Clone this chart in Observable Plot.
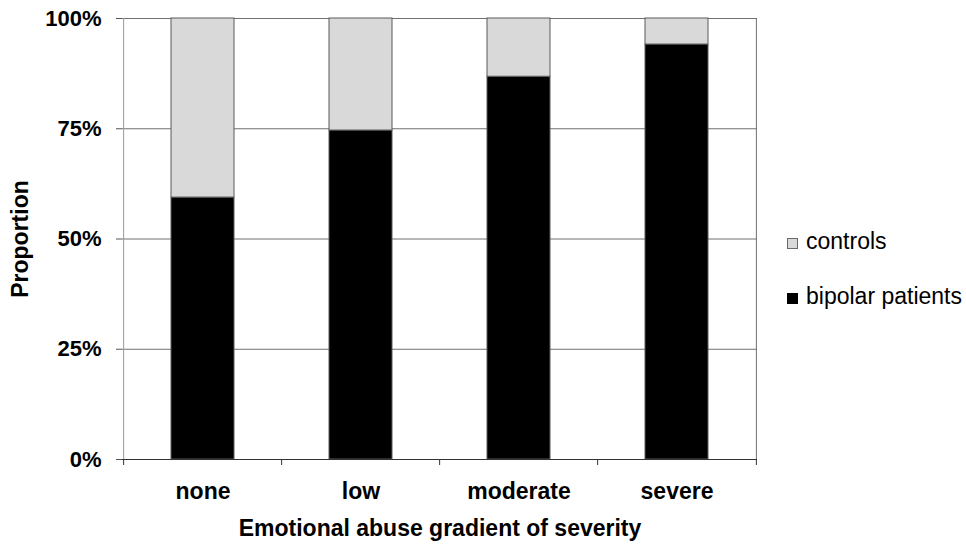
<!DOCTYPE html>
<html>
<head>
<meta charset="utf-8">
<script src="https://cdn.jsdelivr.net/npm/d3@7"></script>
<script src="https://cdn.jsdelivr.net/npm/@observablehq/plot@0.6"></script>
<style>
  body { margin: 0; background: #fff; font-family: "Liberation Sans", Arial, sans-serif; }
  #wrap { position: relative; width: 966px; height: 544px; overflow: hidden; }
  #chart { position: absolute; left: 0; top: 0; }
  .title { position: absolute; font-weight: bold; font-size: 23px; line-height: 23px; white-space: nowrap; color: #000; }
  .lg { position: absolute; font-size: 23px; line-height: 23px; white-space: nowrap; color: #000; }
  .sw { position: absolute; width: 9px; height: 9px; box-sizing: content-box; }
</style>
</head>
<body>
<div id="wrap">
  <div id="chart"></div>
  <div class="title" id="xtitle" style="left:440px; top:517px; transform: translateX(-50%);">Emotional abuse gradient of severity</div>
  <div class="title" id="ytitle" style="left:20px; top:239px; transform: translate(-50%,-50%) rotate(-90deg);">Proportion</div>
  <div id="legend"></div>
</div>
<script>
const categories = ["none", "low", "moderate", "severe"];
const bipolarValues = [59.4, 74.6, 86.8, 94.1];
const controlValues = [40.6, 25.4, 13.2, 5.9];
const groups = ["bipolar patients", "controls"];
const groupColors = ["#000000", "#d9d9d9"];
const yTicks = [0, 25, 50, 75, 100];
const legendOrder = ["controls", "bipolar patients"];

const rows = [];
categories.forEach((c, i) => {
  rows.push({cat: c, group: groups[0], value: bipolarValues[i]});
  rows.push({cat: c, group: groups[1], value: controlValues[i]});
});

const W = 966, H = 544;
const mL = 122, mR = 209, mT = 18, mB = 85;
const step = (W - mL - mR) / categories.length;

const plot = Plot.plot({
  width: W,
  height: H,
  marginLeft: mL,
  marginRight: mR,
  marginTop: mT,
  marginBottom: mB,
  style: {fontFamily: "Liberation Sans, Arial, sans-serif", background: "#fff", color: "#000"},
  x: {domain: categories, paddingInner: 0.6, paddingOuter: 0.3, label: null},
  y: {domain: [0, 100], label: null},
  color: {domain: groups, range: groupColors},
  marks: [
    Plot.ruleY(yTicks.slice(1), {stroke: "#707070", strokeWidth: 1}),
    Plot.ruleX([categories[categories.length - 1]], {dx: step / 2, stroke: "#707070"}),
    Plot.barY(rows, {x: "cat", y: "value", fill: "group", stroke: "#5a5a5a", strokeWidth: 1}),
    Plot.ruleX([categories[0]], {dx: -step / 2, stroke: "#999"}),
    Plot.ruleY([0], {stroke: "#333"}),
    Plot.ruleX(categories, {x: d => d, dx: -step / 2, y1: 0, y2: 0, insetBottom: -6, stroke: "#333"}),
    Plot.ruleX([categories[categories.length - 1]], {x: d => d, dx: step / 2, y1: 0, y2: 0, insetBottom: -6, stroke: "#333"}),
    Plot.axisY({ticks: yTicks, tickFormat: d => d + "%", tickSize: 6, tickPadding: 15, fontSize: 22, fontWeight: "bold", stroke: "#555", label: null}),
    Plot.axisX({tickSize: 0, tickPadding: 23, fontSize: 23, fontWeight: "bold", label: null})
  ]
});
document.getElementById("chart").appendChild(plot);

// legend (HTML), colors from the plot's color scale
const color = plot.scale("color");
const legend = document.getElementById("legend");
const legendTops = {"controls": 238, "bipolar patients": 293};
legendOrder.forEach(g => {
  const sw = document.createElement("div");
  sw.className = "sw";
  const fill = color.range[color.domain.indexOf(g)];
  sw.style.background = fill;
  sw.style.border = "1px solid " + (g === "controls" ? "#6a6a6a" : "#000");
  sw.style.left = "787px";
  sw.style.top = legendTops[g] + "px";
  legend.appendChild(sw);
  const t = document.createElement("div");
  t.className = "lg";
  t.textContent = g;
  t.style.left = "806px";
  t.style.top = (legendTops[g] - 8.5) + "px";
  legend.appendChild(t);
});
</script>
</body>
</html>
